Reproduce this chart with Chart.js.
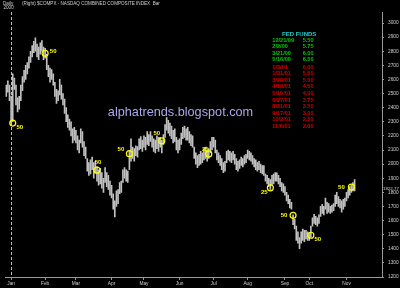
<!DOCTYPE html>
<html>
<head>
<meta charset="utf-8">
<script src="https://cdn.jsdelivr.net/npm/chart.js@4.4.0/dist/chart.umd.min.js"></script>
<style>
  html, body { margin: 0; padding: 0; background: #000; }
  canvas { display: block; }
</style>
</head>
<body>
<canvas id="chart" width="400" height="288"></canvas>
<script>
// trading-day index of first bar (late Dec 2000), index 0 = first trading day of Jan
const firstDay = -3;
const barLow = [2480,2510,2450,2285,2300,2530,2420,2370,2390,2450,2520,2580,2600,2640,2680,2720,2760,2790,2800,2760,
  2740,2780,2800,2740,2750,2670,2620,2580,2600,2560,2480,2430,2450,2490,2460,2420,2360,2300,2260,2240,
  2200,2150,2170,2150,2100,2080,2150,2120,2060,2040,1950,1920,1930,1960,1900,1940,1880,1850,1860,1830,
  1800,1870,1840,1820,1780,1760,1680,1625,1700,1720,1790,1800,1870,1900,1880,1870,1960,2020,2040,2020,
  2060,2050,2100,2110,2090,2120,2100,2140,2130,2160,2120,2090,2080,2110,2090,2120,2080,2140,2190,2240,
  2220,2200,2180,2150,2160,2100,2080,2100,2140,2180,2190,2170,2170,2150,2130,2120,2040,2000,1975,1990,
  2000,2010,2030,2040,2020,2040,2080,2100,2120,2080,2030,2010,1990,1960,1940,1950,2010,2030,2020,2010,
  2030,2000,1960,1950,1970,1990,1980,2000,2010,2040,2030,2020,2000,1980,1960,1950,1960,1940,1930,1920,
  1880,1860,1840,1820,1850,1860,1880,1880,1860,1840,1810,1800,1780,1740,1720,1690,1680,1570,1540,1460,
  1440,1400,1440,1460,1450,1470,1460,1460,1480,1560,1580,1570,1560,1580,1630,1650,1640,1680,1650,1660,
  1650,1660,1670,1700,1720,1700,1690,1660,1680,1700,1740,1760,1780,1800,1810,1810];
const barHigh = [2560,2590,2560,2480,2640,2610,2560,2470,2480,2560,2620,2665,2700,2720,2760,2800,2840,2870,2895,2850,
  2830,2860,2875,2830,2820,2780,2700,2680,2670,2640,2580,2530,2520,2600,2560,2500,2460,2400,2350,2320,
  2300,2250,2260,2240,2200,2170,2250,2230,2160,2120,2040,2010,2030,2050,2010,2020,1980,1960,1970,1940,
  1900,1975,1940,1920,1880,1850,1790,1740,1810,1820,1870,1880,1960,1975,1960,1950,2090,2180,2120,2110,
  2130,2125,2180,2195,2170,2200,2190,2230,2210,2230,2200,2180,2170,2200,2190,2190,2170,2210,2280,2330,
  2310,2290,2270,2240,2250,2190,2170,2180,2220,2260,2270,2250,2260,2230,2210,2200,2120,2080,2060,2070,
  2090,2080,2110,2120,2100,2110,2160,2190,2190,2170,2100,2080,2060,2040,2010,2020,2090,2100,2090,2080,
  2090,2070,2040,2020,2030,2050,2040,2060,2070,2100,2090,2080,2060,2040,2030,2010,2020,2000,1990,1990,
  1930,1920,1900,1890,1920,1930,1940,1938,1920,1900,1870,1860,1840,1800,1780,1750,1730,1640,1610,1560,
  1520,1480,1520,1540,1530,1530,1520,1510,1560,1620,1645,1630,1620,1640,1700,1715,1700,1760,1730,1720,
  1700,1710,1720,1780,1800,1770,1750,1740,1750,1760,1800,1820,1840,1850,1870,1890];
const lastClose = 1822.77;

const monthStarts = [0, 21, 40, 62, 82, 104, 125, 146, 169, 184, 207];
const monthLabels = ['Jan', 'Feb', 'Mar', 'Apr', 'May', 'Jun', 'Jul', 'Aug', 'Sep', 'Oct', 'Nov'];
const priceTicks = [3000, 2900, 2800, 2700, 2600, 2500, 2400, 2300, 2200, 2100, 2000, 1900, 1800, 1700, 1600, 1500, 1400, 1300, 1200];

// Fed rate cuts marked on the chart
const cutDays = [1, 21, 53, 73, 93, 122, 160, 174, 185, 210];
const cutPrices = [2291, 2785, 1957, 2074, 2165, 2072, 1832, 1637, 1496, 1837];
const cutSizes = ['50', '50', '50', '50', '50', '25', '25', '50', '50', '50'];
const cutLabelOffsets = [[7, 4], [8, -2], [1, -8], [-8.5, -4.5], [-5, -7], [-3.5, -5], [-6, 5], [-9, 0], [7, 4.5], [-10, 0]];

const fedDates = ['12/21/99', '2/2/00', '3/21/00', '5/16/00', '1/3/01', '1/31/01', '3/20/01', '4/18/01',
  '5/15/01', '6/27/01', '8/21/01', '9/17/01', '10/2/01', '11/6/01'];
const fedRates = ['5.50', '5.75', '6.00', '6.50', '6.00', '5.50', '5.00', '4.50', '4.00', '3.75', '3.50', '3.00', '2.50', '2.00'];
const fedHikes = 4; // first rows are hikes (green), rest cuts (red)

const titleText = '(Right) $COMPX - NASDAQ COMBINED COMPOSITE INDEX  Bar';
const watermark = 'alphatrends.blogspot.com';

const axisColor = '#9a9a9a';
const textColor = '#cfcfcf';
const fontFamily = '"Liberation Sans", Arial, sans-serif';

const overlay = {
  id: 'overlay',
  beforeDraw(chart) {
    const ctx = chart.ctx;
    ctx.save();
    ctx.fillStyle = '#000';
    ctx.fillRect(0, 0, chart.width, chart.height);
    ctx.restore();
  },
  beforeDatasetsDraw(chart) {
    const { ctx, chartArea, scales: { x } } = chart;
    // year separator
    ctx.save();
    ctx.strokeStyle = '#bdbdbd';
    ctx.setLineDash([3, 2]);
    ctx.lineWidth = 1;
    const px = Math.round(x.getPixelForValue(0)) + 0.5;
    ctx.beginPath();
    ctx.moveTo(px, chartArea.top);
    ctx.lineTo(px, chartArea.bottom);
    ctx.stroke();
    ctx.restore();

    ctx.save();
    ctx.font = '12.7px ' + fontFamily;
    ctx.fillStyle = '#a9a9ee';
    ctx.textAlign = 'center';
    ctx.fillText(watermark, 180.5, 116);
    ctx.restore();
  },
  afterDatasetsDraw(chart) {
    const { ctx, scales: { y } } = chart;
    ctx.save();
    // rate cut labels
    const pts = chart.getDatasetMeta(1).data;
    ctx.font = 'bold 6px ' + fontFamily;
    ctx.fillStyle = '#ffff00';
    ctx.textAlign = 'center';
    ctx.textBaseline = 'middle';
    pts.forEach((p, i) => {
      ctx.fillText(cutSizes[i], p.x + cutLabelOffsets[i][0], p.y + cutLabelOffsets[i][1]);
    });

    // fed funds table
    ctx.textAlign = 'left';
    ctx.font = 'bold 6px ' + fontFamily;
    ctx.fillStyle = '#22cccc';
    ctx.fillText('FED FUNDS', 282, 34.5);
    ctx.font = 'bold 5.6px ' + fontFamily;
    fedDates.forEach((d, i) => {
      ctx.fillStyle = i < fedHikes ? '#00c800' : '#d00000';
      const yy = 40 + i * 6.6 + (i >= fedHikes ? 0.6 : 0);
      ctx.fillText(d, 272.3, yy);
      ctx.fillText(fedRates[i], 302.7, yy);
    });

    // header
    ctx.fillStyle = textColor;
    ctx.font = '4.6px ' + fontFamily;
    ctx.fillText('Daily', 3, 3.5);
    ctx.fillText('2000', 3.5, 7.5);
    ctx.fillText(titleText, 22, 3.5);

    // last price label
    const ly = y.getPixelForValue(lastClose);
    ctx.font = '4.4px ' + fontFamily;
    ctx.fillText(lastClose.toFixed(2), 383, ly);
    ctx.restore();
  }
};

new Chart(document.getElementById('chart'), {
  type: 'bar',
  data: {
    datasets: [{
      data: barLow.map((lo, i) => ({ x: firstDay + i, y: [lo, barHigh[i]] })),
      backgroundColor: '#c0c0c0',
      borderWidth: 0,
      barThickness: 1,
      order: 2
    }, {
      type: 'scatter',
      data: cutDays.map((d, i) => ({ x: d, y: cutPrices[i] })),
      pointRadius: 3,
      pointBorderColor: '#ffff00',
      pointBackgroundColor: 'rgba(0,0,0,0)',
      pointBorderWidth: 1.2,
      order: 1
    }]
  },
  options: {
    responsive: false,
    animation: false,
    devicePixelRatio: 1,
    layout: { padding: { top: 12, left: 0, right: 0, bottom: 0 } },
    plugins: { legend: { display: false }, tooltip: { enabled: false } },
    scales: {
      x: {
        type: 'linear',
        offset: false,
        min: -3.65,
        max: 228.9,
        afterBuildTicks: s => { s.ticks = monthStarts.map(v => ({ value: v })); },
        afterFit: s => { s.height = 11; },
        ticks: {
          autoSkip: false, maxRotation: 0, padding: 1, color: textColor,
          font: { size: 4.8, family: fontFamily },
          callback: (v, i) => monthLabels[i]
        },
        grid: { drawOnChartArea: false, offset: false, tickLength: 3, color: axisColor },
        border: { color: axisColor }
      },
      y: {
        position: 'right',
        min: 1200,
        max: 3078,
        afterBuildTicks: s => { s.ticks = priceTicks.map(v => ({ value: v })); },
        afterFit: s => { s.width = 18; },
        ticks: {
          padding: 4, color: textColor,
          font: { size: 4.8, family: fontFamily },
          callback: v => String(v)
        },
        grid: { drawOnChartArea: false, tickLength: 2, color: axisColor },
        border: { color: axisColor }
      }
    }
  },
  plugins: [overlay]
});
</script>
</body>
</html>
